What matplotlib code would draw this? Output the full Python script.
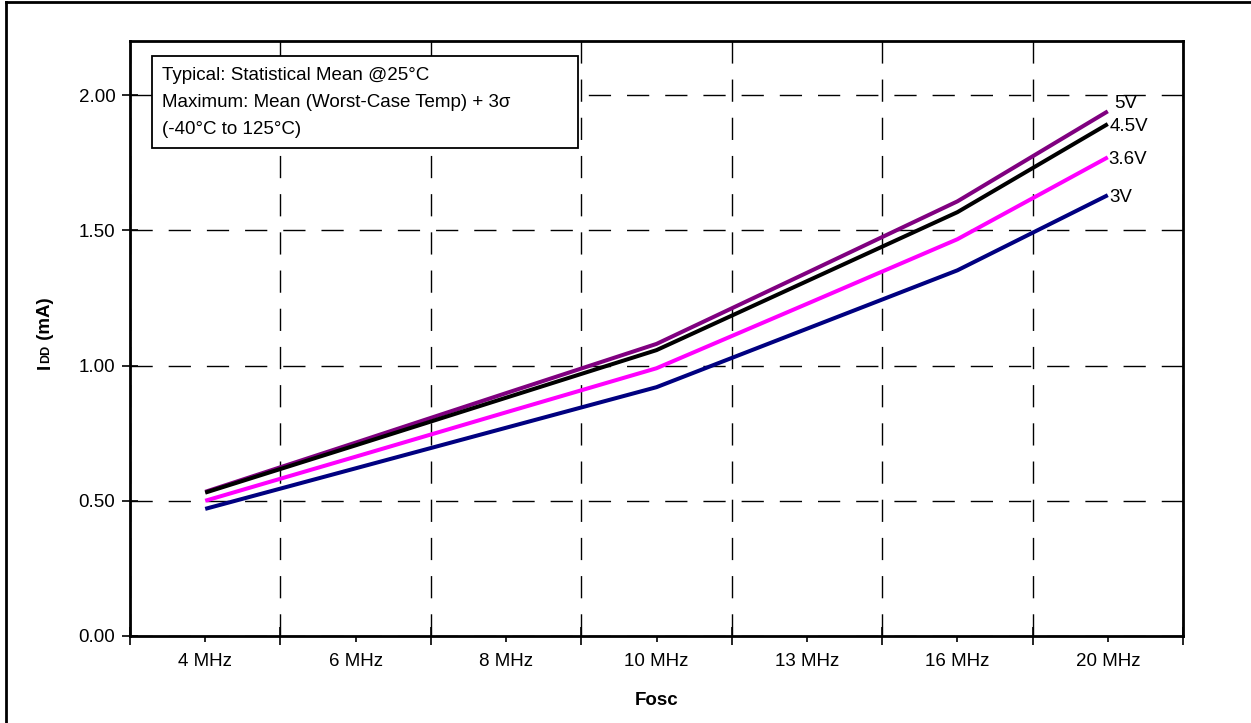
import matplotlib
matplotlib.use('Agg')
import matplotlib.pyplot as plt
from matplotlib.patches import Rectangle
from matplotlib.lines import Line2D

# dane
czestotliwosci = ['4 MHz', '6 MHz', '8 MHz', '10 MHz', '13 MHz', '16 MHz', '20 MHz']
idd_5v = [0.533, 0.715, 0.898, 1.08, 1.343, 1.607, 1.94]
idd_45v = [0.53, 0.705, 0.881, 1.057, 1.312, 1.567, 1.893]
idd_36v = [0.50, 0.663, 0.827, 0.99, 1.228, 1.467, 1.77]
idd_3v = [0.47, 0.62, 0.77, 0.92, 1.136, 1.352, 1.63]
napiecia = ['5V', '4.5V', '3.6V', '3V']
kolory = ['#800080', '#000000', '#FF00FF', '#000080']
y_ticki = [0.0, 0.5, 1.0, 1.5, 2.0]

W, H = 1251, 723
FS = 13.5
plt.rcParams['font.family'] = ['Liberation Sans', 'DejaVu Sans']

fig = plt.figure(figsize=(W / 100, H / 100), dpi=100)
ax = fig.add_axes([130 / W, 1 - 636 / H, 1053 / W, 595 / H])

x = range(len(czestotliwosci))
serie = [idd_5v, idd_45v, idd_36v, idd_3v]
offsety = [(6, 8), (2, -2), (1, -2), (2, -2)]
for wart, kol, nap, off in zip(serie, kolory, napiecia, offsety):
    ax.plot(x, wart, color=kol, linewidth=2.9, solid_capstyle='butt', zorder=3)
    ax.annotate(nap, (len(wart) - 1, wart[-1]), xytext=off, textcoords='offset pixels',
                ha='left', va='center', fontsize=FS)

ax.set_xlim(-0.5, len(czestotliwosci) - 0.5)
ax.set_ylim(0, 2.2)

# duze ticki na granicach kategorii, male pod etykietami
granice = [i - 0.5 for i in range(len(czestotliwosci) + 1)]
ax.set_xticks(granice)
ax.set_xticklabels([])
ax.set_xticks(list(x), minor=True)
ax.set_xticklabels(czestotliwosci, minor=True, fontsize=FS)
ax.tick_params(axis='x', which='major', direction='inout', length=13, width=1.2)
ax.tick_params(axis='x', which='minor', direction='out', length=4, width=1.2, pad=8)

ax.set_yticks(y_ticki)
ax.set_yticklabels(['%.2f' % v for v in y_ticki], fontsize=FS)
ax.tick_params(axis='y', direction='inout', length=11, width=1.2, pad=5)

ax.grid(True, which='major', color='black', linewidth=1.0, linestyle=(0, (16, 11.5)))
for s in ax.spines.values():
    s.set_linewidth(2)

ax.set_xlabel('Fosc', fontsize=FS, fontweight='bold', labelpad=16)

# etykieta osi Y: I + male DD + (mA)
fig.text(45 / W, 1 - 369 / H, 'I', rotation=90, fontsize=FS, fontweight='bold',
         ha='center', va='bottom')
fig.text(46.5 / W, 1 - 363 / H, 'DD', rotation=90, fontsize=9, fontweight='bold',
         ha='center', va='bottom')
fig.text(45 / W, 1 - 345 / H, ' (mA)', rotation=90, fontsize=FS, fontweight='bold',
         ha='center', va='bottom')

# ramka z opisem
fig.patches.append(Rectangle((152 / W, 1 - 148 / H), 426 / W, 92 / H, transform=fig.transFigure,
                             facecolor='white', edgecolor='black', linewidth=1.3, zorder=5))
opis = ['Typical: Statistical Mean @25°C',
        'Maximum: Mean (Worst-Case Temp) + 3σ',
        '(-40°C to 125°C)']
for i, t in enumerate(opis):
    fig.text(162 / W, 1 - (75 + 27.5 * i) / H, t, fontsize=FS, va='center', ha='left', zorder=6)

# ramka calego rysunku (widoczna tylko gora i lewa strona)
fig.lines.append(Line2D([6 / W, 6 / W], [0, 1 - 2 / H], transform=fig.transFigure,
                        color='black', linewidth=2))
fig.lines.append(Line2D([6 / W, 1], [1 - 2 / H, 1 - 2 / H], transform=fig.transFigure,
                        color='black', linewidth=2))

fig.savefig('out.png', dpi=100)
